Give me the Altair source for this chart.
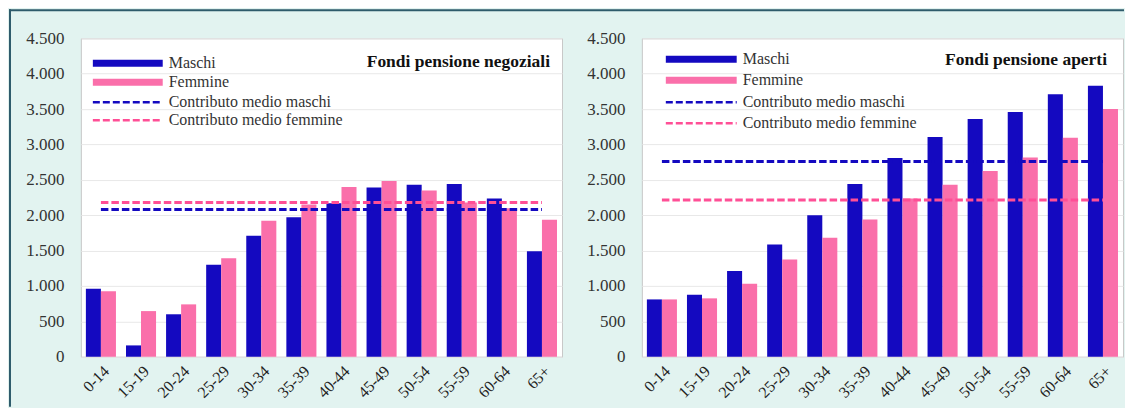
import altair as alt
import pandas as pd

ages = ["0-14", "15-19", "20-24", "25-29", "30-34", "35-39",
        "40-44", "45-49", "50-54", "55-59", "60-64", "65+"]
neg_maschi = [960, 160, 600, 1300, 1710, 1970, 2170, 2390, 2430, 2440, 2235, 1490]
neg_femmine = [925, 645, 740, 1390, 1920, 2150, 2400, 2485, 2350, 2180, 2100, 1935]
ape_maschi = [810, 875, 1210, 1585, 2000, 2440, 2810, 3105, 3360, 3460, 3710, 3830]
ape_femmine = [810, 825, 1030, 1375, 1680, 1940, 2235, 2430, 2625, 2815, 3095, 3500]
neg_medio = {"Maschi": 2080, "Femmine": 2180}
ape_medio = {"Maschi": 2760, "Femmine": 2215}
sexes = ["Maschi", "Femmine"]
legend_labels = ["Maschi", "Femmine", "Contributo medio maschi", "Contributo medio femmine"]
titles = ["Fondi pensione negoziali", "Fondi pensione aperti"]

BLUE = "#1409c0"
PINK = "#fa6faa"
PINK_LINE = "#ff4f96"
FONT = "Liberation Serif"
W, H = 482, 319

color_scale = alt.Scale(domain=sexes, range=[BLUE, PINK])
line_scale = alt.Scale(domain=sexes, range=[BLUE, PINK_LINE])


def panel(maschi, femmine, medio, title, leg, border=False):
    bars_df = pd.DataFrame(
        [{"age": a, "sex": "Maschi", "value": v} for a, v in zip(ages, maschi)]
        + [{"age": a, "sex": "Femmine", "value": v} for a, v in zip(ages, femmine)]
    )
    line_df = pd.DataFrame(
        [{"age": a, "sex": s, "value": medio[s]} for s in sexes for a in (ages[0], ages[-1])]
    )
    x = alt.X("age:N", sort=ages, title=None,
              scale=alt.Scale(paddingInner=0.25, paddingOuter=0.125),
              axis=alt.Axis(labelAngle=-45, labelAlign="right", labelBaseline="top",
                            labelFont=FONT, labelFontSize=16, labelColor="#222",
                            labelOverlap=False,
                            ticks=False, domain=False, labelPadding=6))
    y = alt.Y("value:Q", title=None,
              scale=alt.Scale(domain=[0, 4500], nice=False),
              axis=alt.Axis(values=list(range(0, 4501, 500)),
                            labelExpr="replace(format(datum.value, ',d'), ',', '.')",
                            labelFont=FONT, labelFontSize=17, labelColor="#333",
                            labelOverlap=False,
                            ticks=False, domain=False, labelPadding=17,
                            gridColor="#e8e8e8"))
    bars = alt.Chart(bars_df).mark_bar().encode(
        x=x, y=y,
        xOffset=alt.XOffset("sex:N", sort=sexes),
        color=alt.Color("sex:N", scale=color_scale, legend=None),
    )
    lines = alt.Chart(line_df).mark_line(strokeDash=[7.5, 3], strokeWidth=3).encode(
        x=x, y=y, stroke=alt.Stroke("sex:N", scale=line_scale, legend=None), detail="sex:N",
    )
    one = alt.Data(values=[{"k": 0}])
    x0, x1, xt, rows, tx, ty = leg
    layers = [bars, lines]
    sym = [(BLUE, 7, None), (PINK, 7, None), (BLUE, 2.5, [7, 3]), (PINK_LINE, 2.5, [7, 3])]
    for (c, sw, dash), ry in zip(sym, rows):
        kw = dict(strokeWidth=sw, color=c)
        if dash:
            kw["strokeDash"] = dash
        layers.append(alt.Chart(one).mark_rule(**kw).encode(
            x=alt.value(x0), x2=alt.value(x1), y=alt.value(ry)))
    for lab, ry in zip(legend_labels, rows):
        layers.append(alt.Chart(one).mark_text(
            align="left", baseline="middle", font=FONT, fontSize=16, color="#333"
        ).encode(x=alt.value(xt), y=alt.value(ry), text=alt.value(lab)))
    layers.append(alt.Chart(one).mark_text(
        align="right", baseline="middle", font=FONT, fontSize=17.5, fontWeight="bold", color="#111"
    ).encode(x=alt.value(tx), y=alt.value(ty), text=alt.value(title)))
    if border:
        layers.append(alt.Chart(one).mark_rect(color="#2e5b6b").encode(
            x=alt.value(-72), x2=alt.value(1045), y=alt.value(-29), y2=alt.value(-27)))
        layers.append(alt.Chart(one).mark_rect(color="#2e5b6b").encode(
            x=alt.value(-72), x2=alt.value(-70), y=alt.value(-29), y2=alt.value(369)))
    return alt.layer(*layers).resolve_scale(color="independent").properties(width=W, height=H)


left = panel(neg_maschi, neg_femmine, neg_medio, titles[0],
             (12, 82, 88, [25, 44, 64, 82], 470, 24), border=True)
right = panel(ape_maschi, ape_femmine, ape_medio, titles[1],
              (24, 95, 101, [21, 42, 64, 85], 466, 22))

chart = alt.hconcat(left, right, spacing=80, bounds="flush").properties(
    padding=0, background="#e2f3f0"
).configure_view(fill="white", stroke="#c8c8c8")

chart.save("out.html", embed_options={"renderer": "svg", "actions": False})
